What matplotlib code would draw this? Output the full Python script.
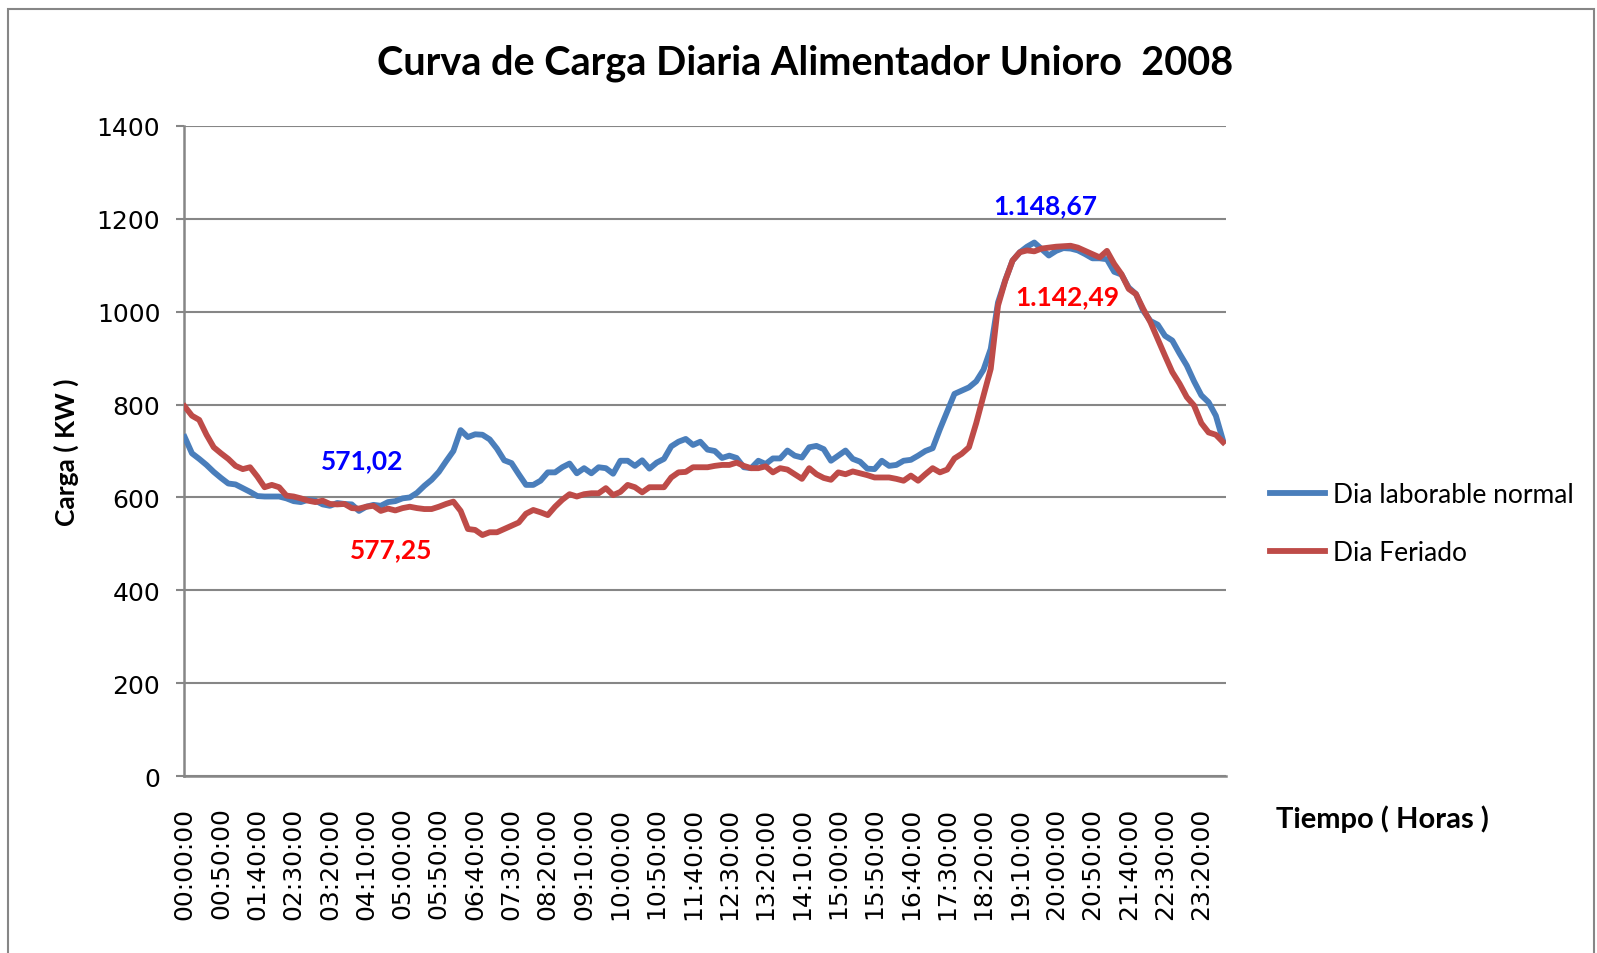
#
# Curva de carga diaria - Alimentador Unioro 2008
# Dia laborable normal vs Dia feriado, registros cada 10 minutos.
#

import numpy as np
import matplotlib
matplotlib.use('Agg')
import matplotlib.pyplot as plt
from matplotlib.patches import Rectangle

# %%
# Data (kW), one value every 10 minutes, 00:00 to 23:50

laborable = [
    730, 695, 683, 670, 655, 642, 630, 628, 620, 612,
    603, 602, 602, 602, 598, 592, 590, 595, 593, 585,
    582, 588, 586, 585, 571, 580, 584, 582, 590, 592,
    598, 600, 610, 625, 638, 655, 678, 700, 745, 730,
    736, 735, 725, 705, 680, 674, 650, 627, 627, 636,
    654, 654, 665, 673, 652, 663, 652, 665, 663, 651,
    679, 679, 668, 680, 662, 675, 683, 710, 720, 726,
    713, 720, 703, 700, 685, 690, 685, 665, 663, 679,
    672, 684, 684, 701, 690, 686, 708, 711, 704, 679,
    690, 701, 683, 677, 662, 661, 679, 668, 670, 679,
    681, 690, 700, 706, 747, 785, 823, 830, 837, 850,
    875, 920, 1020, 1068, 1110, 1128, 1140, 1149, 1135, 1121,
    1131, 1137, 1136, 1132, 1124, 1115, 1115, 1113, 1086, 1080,
    1052, 1038, 1002, 980, 972, 948, 938, 910, 884, 850,
    820, 805, 776, 722,
]

feriado = [
    796, 776, 767, 735, 708, 695, 683, 668, 661, 665,
    645, 622, 627, 622, 604, 602, 598, 593, 590, 593,
    586, 585, 586, 577, 576, 580, 582, 571, 576, 572,
    577, 580, 577, 575, 575, 580, 586, 591, 571, 532,
    530, 519, 525, 525, 532, 539, 546, 565, 573, 568,
    562, 580, 595, 607, 602, 607, 609, 609, 620, 605,
    612, 627, 622, 611, 622, 622, 622, 643, 654, 655,
    665, 665, 665, 668, 670, 670, 675, 668, 663, 663,
    667, 654, 663, 660, 650, 640, 663, 650, 642, 638,
    654, 650, 656, 652, 648, 643, 643, 643, 640, 636,
    647, 636, 650, 663, 654, 660, 684, 694, 708, 760,
    819, 877, 1013, 1067, 1110, 1128, 1132, 1130, 1136, 1138,
    1140, 1141, 1142, 1138, 1131, 1124, 1117, 1131, 1103, 1081,
    1049, 1038, 1006, 977, 941, 905, 870, 845, 816, 798,
    760, 740, 735, 719,
]

# Category labels (hh:mm:ss)
horas = [f'{m // 60:02d}:{m % 60:02d}:00' for m in range(0, 24 * 60, 10)]
tick_step = 5

# Data labels written on the chart: (text, x index, y value, colour)
etiquetas = [
    ('571,02', 24.5, 681, '#0000FF'),
    ('577,25', 28.4, 489, '#FF0000'),
    ('1.148,67', 118.5, 1230, '#0000FF'),
    ('1.142,49', 121.6, 1034, '#FF0000'),
]

# %%
# Plot

cal = ['Lato', 'DejaVu Sans']
grid_c = '#868686'

fig = plt.figure(figsize=(15.97, 9.54), dpi=100)
ax = fig.add_axes([0.1152, 0.1855, 0.6525, 0.6814])

x = np.arange(len(horas))
ax.plot(x, laborable, color='#4A7EBB', lw=4.2, label='Dia laborable normal',
        solid_joinstyle='round', zorder=3)
ax.plot(x, feriado, color='#BE4B48', lw=4.2, label='Dia Feriado',
        solid_joinstyle='round', zorder=3)

ax.set_xlim(-0.1, len(horas) - 0.6)
ax.set_ylim(0, 1400)
ax.set_yticks(np.arange(0, 1401, 200))
ax.yaxis.grid(True, color=grid_c, lw=1.5)
ax.set_axisbelow(True)

ax.set_xticks(x[::tick_step])
ax.set_xticklabels(horas[::tick_step], rotation=90, va='top', fontsize=18)
ax.tick_params(axis='x', length=0, pad=22)
ax.tick_params(axis='y', length=6, width=1.5, color=grid_c, pad=11, labelsize=18)

for s in ['top', 'right']:
    ax.spines[s].set_visible(False)
for s in ['left', 'bottom']:
    ax.spines[s].set_color(grid_c)
    ax.spines[s].set_linewidth(1.8)

for txt, xi, yv, c in etiquetas:
    ax.text(xi, yv, txt, color=c, fontsize=19, fontweight='bold',
            ha='center', va='center', family=cal)

ax.set_ylabel('Carga ( KW )', fontsize=19, fontweight='bold', labelpad=13, family=cal)
fig.text(0.504, 0.934, 'Curva de Carga Diaria Alimentador Unioro  2008',
         ha='center', va='center', fontsize=28.5, fontweight='bold', family=cal)
fig.text(0.799, 0.141, 'Tiempo ( Horas )', ha='left', va='center',
         fontsize=21, fontweight='bold', family=cal)

ax.legend(loc='center left', bbox_to_anchor=(0.795, 0.45), bbox_transform=fig.transFigure,
          frameon=False, prop={'family': cal, 'size': 19}, handlelength=2.1,
          handletextpad=0.3, labelspacing=1.25, borderpad=0, borderaxespad=0)

# Chart area border
fig.patches.append(Rectangle((0.005, -0.01), 0.993, 1.0, transform=fig.transFigure,
                             fill=False, edgecolor=grid_c, lw=1.5))

fig.savefig('out.png', dpi=100)
